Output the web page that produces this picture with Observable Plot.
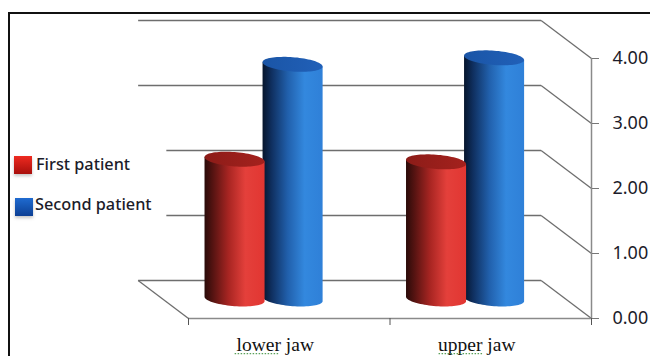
<!DOCTYPE html>
<html>
<head>
<meta charset="utf-8">
<script src="https://cdn.jsdelivr.net/npm/d3@7"></script>
<script src="https://cdn.jsdelivr.net/npm/@observablehq/plot@0.6"></script>
<style>
  html, body { margin: 0; padding: 0; background: #fff; width: 650px; height: 356px; overflow: hidden; }
  #panel { position: absolute; left: 8px; top: 12px; width: 642px; height: 344px; border-top: 2px solid #111; border-left: 2px solid #111; box-sizing: border-box; }
  #chart { position: absolute; left: 0; top: 0; }
  #chart svg { background: transparent; display: block; }
  .key { position: absolute; font: 500 16.3px "Noto Sans", sans-serif; color: #1c1c2a; white-space: nowrap; line-height: 20px; }
  .swatch { position: absolute; width: 18px; height: 18px; box-shadow: 0 2px 3px rgba(90,90,90,.35); }
</style>
</head>
<body>
<div id="chart"></div>
<div id="panel"></div>
<script>
// Mean score per jaw for each patient
const jaws = ["lower jaw", "upper jaw"];
const firstPatient = [2.15, 2.11];
const secondPatient = [3.61, 3.71];
const yTicks = [0, 1, 2, 3, 4];

// Fake-3D depth, expressed in scale units: the back wall sits up and to the left of the front axes
const depthX = -0.25;
const depthY = 0.585;

// Cylinder proportions, also in scale units
const radiusX = 0.149;
const radiusY = 0.11;
const tilt = -0.034;
const barOffset = 0.144;
const steps = d3.range(0, 41).map(i => (i / 40) * Math.PI);

function ring(cx, level) {
  return steps.map(t => ({
    x: cx + radiusX * Math.cos(t),
    upper: level + radiusY * Math.sin(t) + tilt * Math.cos(t),
    lower: level - radiusY * Math.sin(t) + tilt * Math.cos(t),
    flat: level + tilt * Math.cos(t)
  }));
}

// A cylinder is a body area closed by a rounded base plus an elliptical cap at the value
function cylinder(slot, side, value, bodyFill, capFill) {
  const cx = slot + 0.5 + depthX / 2 + side * barOffset;
  const base = depthY / 2;
  const bottom = ring(cx, base);
  const top = ring(cx, base + value);
  const body = bottom.map((p, i) => ({x: p.x, y1: p.lower, y2: top[i].flat}));
  return [
    Plot.areaY(body, {x: "x", y1: "y1", y2: "y2", fill: bodyFill}),
    Plot.areaY(top, {x: "x", y1: "lower", y2: "upper", fill: capFill})
  ];
}

function gradient(id, stops) {
  const g = d3.create("svg:linearGradient").attr("id", id);
  stops.forEach(([offset, color]) => g.append("stop").attr("offset", offset).attr("stop-color", color));
  return g.node();
}

const defs = () => {
  const d = d3.create("svg:defs");
  d.node().append(
    gradient("redBody", [[0, "#2a0b09"], [0.12, "#4f1210"], [0.4, "#a82522"], [0.68, "#e4403b"], [1, "#e23632"]]),
    gradient("blueBody", [[0, "#06152c"], [0.15, "#0f2f5f"], [0.42, "#2160ac"], [0.7, "#3388de"], [1, "#2f80d8"]]),
    gradient("redCap", [[0, "#8c1c18"], [1, "#a4211d"]]),
    gradient("blueCap", [[0, "#1a55a6"], [1, "#2160b8"]])
  );
  return d.node();
};

const wallColor = "#6e6e6e";
// The two middle gridlines stop short of the legend
const wallStart = v => (v === 1 || v === 2) ? -0.11 : depthX;

const chart = Plot.plot({
  width: 650,
  height: 356,
  marginLeft: 188,
  marginRight: 59,
  marginTop: 58,
  marginBottom: 38,
  style: {background: "transparent", overflow: "visible"},
  x: {type: "linear", domain: [0, 2], axis: null},
  y: {domain: [0, 4], axis: null},
  marks: [
    defs,
    // Back wall gridlines
    Plot.link(yTicks, {
      x1: wallStart,
      x2: 2 + depthX,
      y1: d => d + depthY,
      y2: d => d + depthY,
      stroke: wallColor,
      strokeWidth: 1.5
    }),
    // Side wall edges running from the back wall to the value axis
    Plot.link(yTicks, {
      x1: 2 + depthX,
      x2: 2,
      y1: d => d + depthY,
      y2: d => d,
      stroke: wallColor,
      strokeWidth: 1.3
    }),
    // Left edge of the floor
    Plot.link([0], {
      x1: depthX,
      x2: 0,
      y1: depthY,
      y2: 0,
      stroke: wallColor,
      strokeWidth: 1.3
    }),
    // Front edge of the floor
    Plot.ruleY([0], {x1: 0, x2: 2, stroke: "#8a8a8a", strokeWidth: 1.5}),
    // Value axis line
    Plot.ruleX([2], {y1: 0, y2: 4, stroke: "#8a8a8a", strokeWidth: 1.5}),
    // Blue first so that the red cylinders overlap it
    jaws.map((_, i) => cylinder(i, 1, secondPatient[i], "url(#blueBody)", "url(#blueCap)")),
    jaws.map((_, i) => cylinder(i, -1, firstPatient[i], "url(#redBody)", "url(#redCap)")),
    Plot.axisY(yTicks, {
      anchor: "right",
      tickSize: 7,
      tickPadding: 14,
      tickFormat: ".2f",
      fontSize: 18,
      fontFamily: "Noto Sans",
      stroke: "#777",
      fill: "#1c1c2a",
      label: null
    }),
    Plot.axisX([0, 1, 2], {
      anchor: "bottom",
      tickSize: 7,
      tickFormat: () => "",
      stroke: "#555",
      label: null
    }),
    Plot.axisX([0.5, 1.5], {
      anchor: "bottom",
      tickSize: 0,
      tickPadding: 19,
      dx: -14,
      tickFormat: d => jaws[d - 0.5],
      fontSize: 19.5,
      fontFamily: "Liberation Serif",
      fill: "#111",
      label: null
    }),
    // Proofing squiggle under the first word of each category label
    Plot.link([{a: 0.229, b: 0.447}, {a: 1.241, b: 1.464}], {
      x1: "a",
      x2: "b",
      y1: () => -0.54,
      y2: () => -0.54,
      stroke: "#5aa05a",
      strokeWidth: 1.2,
      strokeDasharray: "1.5 1.5"
    })
  ]
});

const host = document.getElementById("chart");
host.append(chart);

// Legend sits over the left part of the chart
const keys = [
  {label: "First patient", x: 14, y: 156, tx: 36, ty: 154, color: "linear-gradient(#ee2a20, #a80f0c)"},
  {label: "Second patient", x: 15, y: 198, tx: 35, ty: 194, color: "linear-gradient(#1f6bd0, #0c3f94)"}
];
for (const k of keys) {
  const s = document.createElement("div");
  s.className = "swatch";
  s.style.cssText = `left:${k.x}px;top:${k.y}px;background:${k.color}`;
  const t = document.createElement("div");
  t.className = "key";
  t.style.cssText = `left:${k.tx}px;top:${k.ty}px`;
  t.textContent = k.label;
  document.body.append(s, t);
}
</script>
</body>
</html>
